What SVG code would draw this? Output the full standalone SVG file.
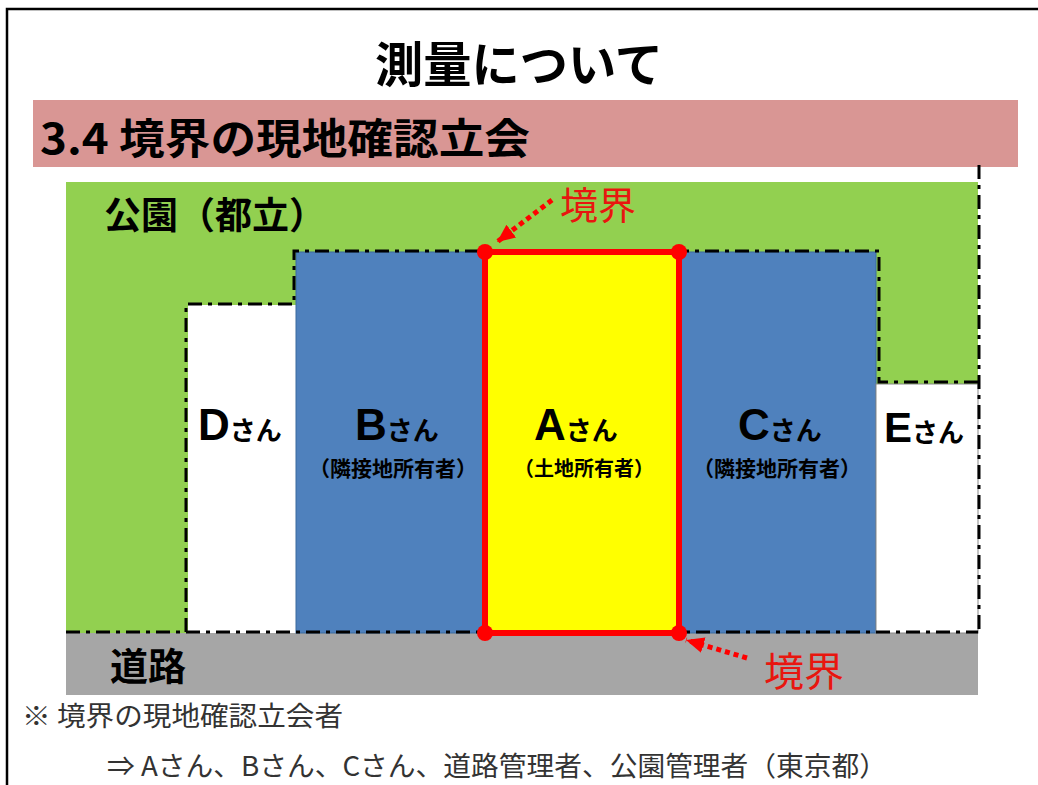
<svg xmlns="http://www.w3.org/2000/svg" width="1038" height="785" viewBox="0 0 1038 785">
<defs>
<style>
.jp{font-family:"Noto Sans CJK JP","Liberation Sans",sans-serif}
.lat{font-family:"Liberation Sans","Noto Sans CJK JP",sans-serif}
.b{font-weight:bold}
.bd{fill:none;stroke:#000;stroke-width:3;stroke-dasharray:14 6 4 6}
.dot{fill:none;stroke:#FF0000;stroke-width:5;stroke-dasharray:5 4}
.red{fill:#E8160F}
</style>
<marker id="ah" markerUnits="userSpaceOnUse" markerWidth="20" markerHeight="18" refX="18" refY="8" orient="auto">
<path d="M0,0 L18,8 L0,16 z" fill="#FF0000"/>
</marker>
</defs>
<rect width="1038" height="785" fill="#fff"/>
<rect x="7" y="9" width="1050" height="800" fill="none" stroke="#000" stroke-width="2.5"/>

<g id="title">
<text class="jp b" x="519" y="82" font-size="48" text-anchor="middle" textLength="288" lengthAdjust="spacingAndGlyphs">測量について</text>
</g>
<g id="section-band">
<rect x="33" y="100" width="985" height="67" fill="#D99694"/>
<text class="jp b" x="40" y="154" font-size="42" textLength="490" lengthAdjust="spacingAndGlyphs">3.4 境界の現地確認立会</text>
</g>

<g id="park">
<rect x="66" y="182" width="912" height="451" fill="#92D050"/>
<text class="jp b" x="104" y="229" font-size="37" textLength="222" lengthAdjust="spacing">公園（都立）</text>
</g>
<g id="road">
<rect x="66" y="633" width="912" height="62" fill="#A6A6A6"/>
<text class="jp b" x="110" y="680" font-size="38">道路</text>
</g>
<g id="lot-d">
<rect x="188" y="305" width="108" height="328" fill="#fff"/>
<text x="198" y="440"><tspan class="lat b" font-size="44">D</tspan><tspan class="jp" font-size="26" font-weight="bold">さん</tspan></text>
</g>
<g id="lot-b">
<rect x="296" y="252" width="189" height="381" fill="#4F81BD" stroke="#3A6A9E" stroke-width="1"/>
<text x="355" y="440"><tspan class="lat b" font-size="44">B</tspan><tspan class="jp" font-size="26" font-weight="bold">さん</tspan></text>
<text class="jp b" x="393" y="476" font-size="21" text-anchor="middle">（隣接地所有者）</text>
</g>
<g id="lot-a">
<rect x="485" y="252" width="194" height="381" rx="4" fill="#FFFF00" stroke="#FF0000" stroke-width="6"/>
<text x="534" y="440"><tspan class="lat b" font-size="44">A</tspan><tspan class="jp" font-size="26" font-weight="bold">さん</tspan></text>
<text class="jp b" x="584" y="476" font-size="20" text-anchor="middle">（土地所有者）</text>
</g>
<g id="lot-c">
<rect x="679" y="252" width="197" height="381" fill="#4F81BD" stroke="#3A6A9E" stroke-width="1"/>
<text x="738" y="440"><tspan class="lat b" font-size="44">C</tspan><tspan class="jp" font-size="26" font-weight="bold">さん</tspan></text>
<text class="jp b" x="777" y="476" font-size="21" text-anchor="middle">（隣接地所有者）</text>
</g>
<g id="lot-e">
<rect x="876" y="384" width="102" height="249" fill="#fff" stroke="#888" stroke-width="1"/>
<text x="884" y="442"><tspan class="lat b" font-size="42">E</tspan><tspan class="jp" font-size="26" font-weight="bold">さん</tspan></text>
</g>

<g id="connectors">
<path class="bd" d="M66,632 H978"/>
<path class="bd" d="M186,632 V304 H294 V251 H879 V382 H978"/>
<path class="bd" d="M979,165 V632"/>
<rect x="485" y="252" width="194" height="381" rx="4" fill="none" stroke="#FF0000" stroke-width="6"/>
<circle cx="485" cy="252" r="8" fill="#FF0000"/>
<circle cx="679" cy="252" r="8" fill="#FF0000"/>
<circle cx="485" cy="633" r="8" fill="#FF0000"/>
<circle cx="679" cy="633" r="8" fill="#FF0000"/>
<path class="dot" d="M552,200 L497,242" marker-end="url(#ah)"/>
<path class="dot" d="M747,658 L686,640" marker-end="url(#ah)"/>
</g>

<g id="label-boundary-top">
<text class="jp red" x="560" y="219" font-size="38">境界</text>
</g>
<g id="label-boundary-bottom">
<text class="jp red" x="764" y="686" font-size="40">境界</text>
</g>

<g id="notes">
<text class="jp" x="22" y="726" font-size="27" fill="#333" textLength="321" lengthAdjust="spacingAndGlyphs">※ 境界の現地確認立会者</text>
<text class="jp" x="107" y="776" font-size="27" fill="#333" textLength="780" lengthAdjust="spacingAndGlyphs">⇒ Aさん、Bさん、Cさん、道路管理者、公園管理者（東京都）</text>
</g>
</svg>
